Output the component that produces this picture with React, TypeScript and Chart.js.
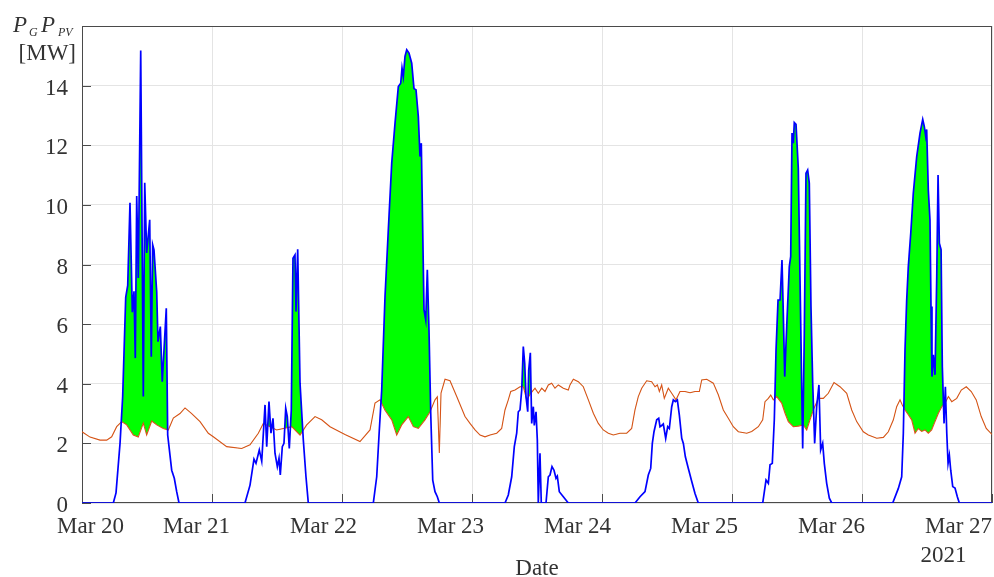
import React, { useEffect, useRef } from "react";
import { Chart, registerables } from "chart.js";

Chart.register(...registerables);

type Pt = [number, number]; // [hours since Mar 20 00:00, MW]

const dayLabels = ["Mar 20", "Mar 21", "Mar 22", "Mar 23", "Mar 24", "Mar 25", "Mar 26", "Mar 27"];
const yearLabel = "2021";
const xTitle = "Date";
const yTickLabels = [0, 2, 4, 6, 8, 10, 12, 14];

// PV output, one list per day (daylight hours only)
const pvMar20: Pt[] = [
  [5.78, 0], [6.28, 0.34], [7.02, 2.0], [7.51, 3.57], [8.07, 6.9], [8.44, 7.3], [8.86, 10.07],
  [9.29, 6.4], [9.6, 7.1], [9.84, 4.86], [10.1, 10.3], [10.39, 7.55], [10.84, 15.18], [11.32, 3.57],
  [11.58, 10.74], [11.94, 8.39], [12.5, 9.5], [12.79, 4.91], [13.05, 8.66], [13.29, 8.49], [13.79, 7.09],
  [14.03, 5.41], [14.46, 5.92], [14.82, 4.07], [15.56, 6.53], [15.82, 2.28], [16.56, 1.1], [17.04, 0.83],
  [17.48, 0.38], [17.91, 0],
];
const pvMar21: Pt[] = [
  [30.09, 0], [31.02, 0.6], [31.75, 1.47], [32.12, 1.33], [32.73, 1.78], [33.18, 1.4], [33.79, 3.29],
  [34.1, 1.89], [34.52, 3.4], [34.89, 2.34], [35.26, 2.84], [35.63, 1.67], [36.06, 1.22], [36.37, 1.5],
  [36.61, 0.94], [36.98, 1.89], [37.29, 2.0], [37.61, 3.18], [37.9, 2.9], [38.27, 1.83], [38.64, 3.12],
  [38.95, 8.21], [39.32, 8.32], [39.51, 6.42], [39.82, 8.51], [40.25, 4.02], [40.86, 2.11], [41.35, 0.88],
  [41.78, 0],
];
const pvMar22: Pt[] = [
  [53.78, 0], [54.41, 0.88], [54.89, 2.45], [55.33, 3.79], [55.94, 6.92], [56.55, 9.16], [57.18, 11.4],
  [57.79, 12.74], [58.4, 13.97], [58.84, 14.08], [59.08, 14.59], [59.32, 14.3], [59.63, 14.98], [59.95, 15.2],
  [60.37, 15.09], [60.87, 14.75], [61.29, 13.9], [61.66, 13.86], [62.09, 12.96], [62.4, 11.62], [62.64, 12.07],
  [62.9, 9.16], [63.14, 6.48], [63.46, 6.14], [63.75, 7.82], [64.06, 5.8], [64.38, 3.01], [64.75, 0.77],
  [65.17, 0.38], [65.6, 0.21], [65.97, 0],
];
const pvMar23: Pt[] = [
  [78.09, 0], [78.7, 0.27], [79.33, 0.88], [79.81, 1.89], [80.25, 2.34], [80.55, 3.06], [80.86, 3.12],
  [81.18, 3.79], [81.47, 5.25], [81.73, 4.69], [81.97, 3.57], [82.29, 3.06], [82.47, 4.46], [82.77, 5.04],
  [83.02, 2.67], [83.32, 3.23], [83.5, 2.6], [83.82, 3.06], [84.06, 2.11], [84.24, 0], [84.55, 1.67],
  [84.79, 0], [85.66, 0], [86.09, 0.88], [86.4, 0.94], [86.77, 1.22], [87.14, 1.1], [87.51, 0.83],
  [87.75, 0.9], [88.12, 0.38], [88.86, 0.21], [89.78, 0],
];
const pvMar24: Pt[] = [
  [102.09, 0], [103.02, 0.21], [103.94, 0.38], [104.55, 0.94], [104.99, 1.16], [105.29, 2.0], [105.6, 2.39],
  [106.1, 2.79], [106.47, 2.84], [106.71, 2.56], [107.02, 2.6], [107.32, 2.65], [107.76, 2.17], [108.13, 2.56],
  [108.43, 2.5], [108.87, 3.23], [109.17, 3.46], [109.54, 3.4], [109.91, 3.46], [110.28, 2.95], [110.72, 2.17],
  [111.02, 2.0], [111.39, 1.55], [111.94, 1.16], [112.57, 0.72], [113.17, 0.32], [113.78, 0],
];
const pvMar25: Pt[] = [
  [125.67, 0], [126.28, 0.77], [126.71, 0.66], [127.02, 1.28], [127.44, 1.33], [127.81, 2.79], [128.13, 5.13],
  [128.5, 6.81], [128.87, 6.81], [129.23, 8.15], [129.47, 6.37], [129.73, 4.24], [130.1, 5.92], [130.58, 7.93],
  [130.84, 8.27], [131.08, 12.41], [131.32, 12.07], [131.5, 12.76], [131.82, 12.7], [132.24, 11.23],
  [132.55, 7.6], [133.05, 1.83], [133.35, 5.7], [133.66, 11.06], [133.97, 11.17], [134.27, 10.73],
  [134.58, 6.59], [134.9, 4.02], [135.26, 2.0], [135.63, 3.23], [136.05, 3.96], [136.37, 1.78], [136.74, 2.0],
  [137.04, 1.33], [137.48, 0.66], [137.97, 0.16], [138.41, 0],
];
const pvMar26: Pt[] = [
  [149.67, 0], [150.71, 0.49], [151.33, 0.88], [151.63, 2.34], [151.94, 5.13], [152.25, 6.81], [152.55, 7.93],
  [153.0, 9.05], [153.47, 10.39], [154.1, 11.62], [154.71, 12.41], [155.21, 12.87], [155.5, 12.63],
  [155.76, 12.3], [155.94, 12.53], [156.24, 10.5], [156.55, 9.5], [156.74, 6.59], [156.92, 4.24],
  [157.17, 4.97], [157.48, 4.3], [157.8, 7.6], [158.04, 11.0], [158.28, 8.71], [158.6, 8.5], [158.83, 4.57],
  [159.15, 2.67], [159.39, 3.9], [159.65, 2.34], [159.89, 1.33], [160.13, 1.6], [160.38, 1.1], [160.75, 0.55],
  [161.17, 0.5], [161.6, 0.21], [161.97, 0],
];

const pvSeries: Pt[] = [
  [0, 0], ...pvMar20, ...pvMar21, ...pvMar22, ...pvMar23, ...pvMar24, ...pvMar25, ...pvMar26, [168, 0],
];

// Grid power P_G over the whole week
const gridSeries: Pt[] = [
  [0, 2.39], [1.48, 2.21], [3.32, 2.11], [4.56, 2.11], [5.48, 2.22], [6.4, 2.56], [7.33, 2.73], [8.25, 2.62],
  [9.47, 2.28], [10.39, 2.21], [11.32, 2.68], [11.94, 2.28], [12.87, 2.75], [13.79, 2.62], [15.01, 2.5],
  [15.93, 2.45], [16.86, 2.85], [18.09, 3.0], [19.02, 3.19], [20.25, 3.0], [21.79, 2.73], [23.32, 2.34],
  [24.24, 2.22], [26.71, 1.89], [29.48, 1.83], [31.02, 1.95], [32.55, 2.34], [33.47, 2.67], [35.94, 2.45],
  [38.72, 2.56], [40.25, 2.28], [41.48, 2.62], [43.02, 2.9], [44.25, 2.79], [45.79, 2.56], [48.55, 2.3],
  [51.32, 2.06], [53.17, 2.45], [54.09, 3.35], [55.02, 3.46], [55.94, 3.11], [57.18, 2.79], [58.1, 2.28],
  [59.02, 2.62], [60.24, 2.9], [61.17, 2.56], [62.09, 2.5], [63.32, 2.79], [64.25, 3.06], [65.17, 3.46],
  [65.6, 3.56], [65.97, 1.68], [66.28, 3.69], [67.02, 4.15], [67.94, 4.1], [69.18, 3.57], [70.71, 2.9],
  [71.63, 2.67], [72.56, 2.45], [73.48, 2.28], [74.4, 2.22], [75.33, 2.28], [76.56, 2.34], [77.48, 2.5],
  [78.09, 3.12], [78.7, 3.46], [79.15, 3.74], [79.94, 3.79], [80.86, 3.9], [81.47, 3.9], [82.1, 3.46],
  [82.84, 3.68], [83.63, 3.85], [84.24, 3.68], [84.87, 3.85], [85.48, 3.74], [86.09, 3.96], [86.71, 4.02],
  [87.32, 3.85], [87.94, 3.96], [88.86, 3.85], [89.78, 3.79], [90.09, 3.96], [90.71, 4.15], [91.63, 4.07],
  [92.55, 3.9], [93.48, 3.46], [94.4, 3.01], [95.32, 2.67], [96.24, 2.45], [97.17, 2.34], [98.09, 2.28],
  [99.32, 2.34], [100.56, 2.34], [101.48, 2.5], [102.09, 3.12], [102.7, 3.57], [103.33, 3.85], [104.25, 4.1],
  [105.17, 4.07], [105.79, 3.9], [106.22, 3.96], [106.59, 3.74], [107.02, 3.96], [107.5, 3.51], [108.24, 3.85],
  [108.87, 3.68], [109.66, 3.46], [110.4, 3.74], [111.32, 3.74], [112.25, 3.7], [113.17, 3.74], [113.97, 3.74],
  [114.41, 4.13], [115.33, 4.15], [116.55, 4.02], [117.47, 3.63], [118.4, 3.12], [119.32, 2.84], [120.24, 2.56],
  [121.17, 2.39], [122.72, 2.34], [123.64, 2.4], [124.86, 2.56], [125.67, 2.79], [126.09, 3.4], [126.71, 3.51],
  [127.15, 3.62], [127.63, 3.46], [128.25, 3.57], [129.17, 3.35], [129.79, 3.01], [130.4, 2.73], [131.32, 2.56],
  [132.24, 2.58], [133.17, 2.62], [133.79, 2.45], [134.4, 2.79], [135.01, 3.12], [135.94, 3.51], [136.86, 3.51],
  [137.78, 3.68], [138.83, 4.04], [139.94, 3.9], [141.18, 3.68], [142.1, 3.12], [143.02, 2.73], [144.24, 2.39],
  [145.17, 2.28], [146.72, 2.17], [147.94, 2.2], [148.86, 2.39], [149.79, 2.79], [150.4, 3.23], [151.02, 3.46],
  [151.44, 3.29], [151.94, 3.12], [152.55, 2.96], [153.17, 2.79], [153.79, 2.34], [154.4, 2.5], [155.02, 2.4],
  [155.63, 2.45], [156.24, 2.34], [156.86, 2.45], [157.48, 2.73], [158.1, 3.01], [158.72, 3.23], [159.33, 3.35],
  [159.95, 3.57], [160.57, 3.4], [161.49, 3.51], [162.33, 3.79], [163.25, 3.9], [164.17, 3.74], [165.09, 3.46],
  [166.01, 2.9], [166.94, 2.5], [168, 2.3],
];

const SERIF = '"Liberation Serif", "Times New Roman", serif';
const INK = "#333333";
const AXIS = "#4a4a4a";
const TICK_LEN = 9;

// Box, inward tick marks and all axis text, MATLAB style
const axesPlugin = {
  id: "matlabAxes",
  beforeDatasetsDraw(chart: any) {
    const { ctx, chartArea: a, scales } = chart;
    ctx.save();
    ctx.strokeStyle = AXIS;
    ctx.lineWidth = 1;
    ctx.strokeRect(Math.round(a.left) + 0.5, Math.round(a.top) + 0.5,
      Math.round(a.right - a.left) - 1, Math.round(a.bottom - a.top) - 1);
    ctx.beginPath();
    for (const t of scales.y.ticks) {
      const y = Math.round(scales.y.getPixelForValue(t.value)) + 0.5;
      ctx.moveTo(a.left, y);
      ctx.lineTo(a.left + TICK_LEN, y);
    }
    for (const t of scales.x.ticks) {
      const x = Math.round(scales.x.getPixelForValue(t.value)) + 0.5;
      ctx.moveTo(x, a.bottom);
      ctx.lineTo(x, a.bottom - TICK_LEN);
    }
    ctx.stroke();
    ctx.restore();
  },
  afterDraw(chart: any) {
    const { ctx, chartArea: a, scales } = chart;
    ctx.save();
    ctx.fillStyle = INK;
    ctx.font = `23px ${SERIF}`;
    ctx.textBaseline = "alphabetic";

    // y tick labels
    ctx.textAlign = "right";
    for (const v of yTickLabels) {
      ctx.fillText(String(v), a.left - 14, scales.y.getPixelForValue(v) + 9);
    }

    // date labels, packed slightly tighter than the day ticks
    ctx.textAlign = "center";
    let lastX = 0;
    dayLabels.forEach((lab, k) => {
      const px = scales.x.getPixelForValue(k * 24);
      const w = ctx.measureText(lab).width;
      const x = Math.max(px - 12.5 - 3 * k, a.left - 25 + w / 2);
      ctx.fillText(lab, x, a.bottom + 30);
      lastX = x;
    });
    ctx.fillText(yearLabel, lastX - 15, a.bottom + 59);
    ctx.fillText(xTitle, (a.left + a.right) / 2, a.bottom + 72);

    // y-axis title: P_G P_PV [MW]
    ctx.textAlign = "left";
    ctx.font = `italic 23px ${SERIF}`;
    ctx.fillText("P", 13, 32);
    ctx.fillText("P", 41, 32);
    ctx.font = `italic 12px ${SERIF}`;
    ctx.fillText("G", 29, 36);
    ctx.fillText("PV", 58, 36);
    ctx.font = `23px ${SERIF}`;
    ctx.textAlign = "right";
    ctx.fillText("[MW]", a.left - 6, 60);
    ctx.restore();
  },
};

export default function App() {
  const ref = useRef<HTMLCanvasElement>(null);

  useEffect(() => {
    const canvas = ref.current;
    if (!canvas) return;
    const gridStyle = { color: "#e4e4e4", lineWidth: 1, drawTicks: false };
    const chart = new Chart(canvas, {
      type: "line",
      data: {
        datasets: [
          {
            label: "P_PV",
            data: pvSeries.map(([x, y]) => ({ x, y })),
            borderColor: "#0000ff",
            borderWidth: 1.7,
            pointRadius: 0,
            tension: 0,
            fill: { target: 1, above: "#00ff00", below: "rgba(0,0,0,0)" },
          },
          {
            label: "P_G",
            data: gridSeries.map(([x, y]) => ({ x, y })),
            borderColor: "#d95319",
            borderWidth: 1.1,
            pointRadius: 0,
            tension: 0,
            fill: false,
          },
        ],
      },
      options: {
        responsive: false,
        animation: false,
        devicePixelRatio: 1,
        events: [],
        layout: { padding: { left: 82, top: 26, right: 2, bottom: 74 } },
        plugins: {
          legend: { display: false },
          tooltip: { enabled: false },
          filler: { drawTime: "beforeDatasetsDraw" },
        },
        scales: {
          x: {
            type: "linear",
            min: 0,
            max: 168,
            ticks: { display: false, stepSize: 24 },
            grid: gridStyle,
            border: { display: false },
          },
          y: {
            type: "linear",
            min: 0,
            max: 16,
            ticks: { display: false, stepSize: 2 },
            grid: gridStyle,
            border: { display: false },
          },
        },
      },
      plugins: [axesPlugin],
    } as any);
    return () => chart.destroy();
  }, []);

  return (
    <div style={{ position: "fixed", left: 0, top: 0, width: 994, height: 577, background: "#ffffff" }}>
      <canvas ref={ref} width={994} height={577} style={{ display: "block" }} />
    </div>
  );
}
